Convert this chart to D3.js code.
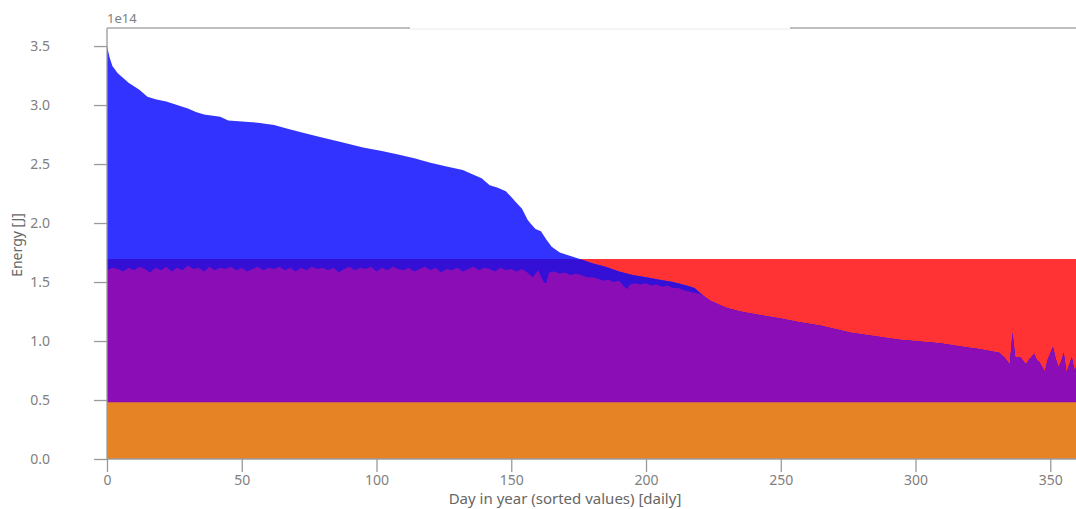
<!doctype html>
<html>
<head>
<meta charset="UTF-8">
<title>Energy duration</title>
<script src="https://d3js.org/d3.v7.min.js"></script>
<style>
    body { margin: 0; background: #fff; }
    text { font-family: "Noto Sans", "Open Sans", sans-serif; }
</style>
</head>
<body>
<svg id="chart" width="1076" height="509"></svg>
<script>
    // values in units of 1e14 J
    var demandDays = [0, 1, 2, 4, 6, 8, 10, 12, 15, 18, 22, 26, 30, 33, 36, 42, 45, 50, 56, 62, 67, 72, 79, 86, 95,
        102, 108, 114, 120, 126, 132, 136, 139, 142, 145, 148, 150, 152, 154, 156, 157, 159, 161, 163, 165, 168,
        172, 176, 180, 185, 190, 195, 200, 205, 210, 215, 218, 220, 222, 224, 227, 230, 235, 242, 250, 257, 265,
        276, 285, 294, 309, 318, 324, 331, 333, 335, 336, 337, 339, 341, 342, 344, 345, 346, 348, 349, 351, 352,
        353, 354, 355, 356, 358, 359, 360, 361, 362, 363, 364];
    var demand = [3.50, 3.40, 3.33, 3.27, 3.23, 3.19, 3.16, 3.13, 3.07, 3.05, 3.03, 3.00, 2.97, 2.94, 2.92, 2.90,
        2.87, 2.86, 2.85, 2.83, 2.80, 2.77, 2.73, 2.69, 2.64, 2.61, 2.58, 2.55, 2.51, 2.48, 2.45, 2.41, 2.38, 2.32,
        2.30, 2.27, 2.22, 2.17, 2.12, 2.03, 2.00, 1.95, 1.93, 1.86, 1.80, 1.75, 1.72, 1.69, 1.66, 1.63, 1.59, 1.56,
        1.54, 1.52, 1.50, 1.47, 1.45, 1.41, 1.37, 1.34, 1.31, 1.28, 1.25, 1.22, 1.19, 1.16, 1.13, 1.07, 1.04, 1.01,
        0.98, 0.95, 0.93, 0.90, 0.86, 0.80, 1.07, 0.86, 0.86, 0.80, 0.84, 0.89, 0.84, 0.82, 0.74, 0.84, 0.95, 0.85,
        0.78, 0.82, 0.90, 0.73, 0.86, 0.75, 0.80, 0.74, 0.84, 0.77, 0.75];

    var suppliedDays = [0, 2, 4, 6, 8, 10, 12, 14, 16, 18, 20, 22, 24, 26, 28, 30, 32, 34, 36, 38, 40, 42, 44, 46,
        48, 50, 52, 54, 56, 58, 60, 62, 64, 66, 68, 70, 72, 74, 76, 78, 80, 82, 84, 86, 88, 90, 92, 94, 96, 98, 100,
        102, 104, 106, 108, 110, 112, 114, 116, 118, 120, 122, 124, 126, 128, 130, 132, 134, 136, 138, 140, 142,
        144, 146, 148, 150, 152, 154, 156, 158, 160, 162, 163, 164, 166, 168, 170, 172, 174, 176, 178, 180, 182,
        184, 186, 188, 190, 192, 193, 194, 196, 198, 200, 202, 204, 206, 208, 210, 212, 214, 216, 218, 220];
    var supplied = [1.60, 1.62, 1.61, 1.59, 1.62, 1.60, 1.63, 1.61, 1.58, 1.62, 1.60, 1.63, 1.59, 1.62, 1.60,
        1.64, 1.61, 1.62, 1.59, 1.63, 1.60, 1.62, 1.61, 1.63, 1.60, 1.62, 1.59, 1.61, 1.63, 1.60, 1.62, 1.61, 1.63,
        1.60, 1.62, 1.59, 1.62, 1.60, 1.63, 1.61, 1.62, 1.60, 1.62, 1.58, 1.61, 1.63, 1.60, 1.62, 1.61, 1.63, 1.59,
        1.62, 1.60, 1.63, 1.61, 1.60, 1.62, 1.59, 1.61, 1.63, 1.60, 1.62, 1.58, 1.61, 1.60, 1.62, 1.59, 1.61, 1.63,
        1.60, 1.62, 1.61, 1.59, 1.62, 1.60, 1.61, 1.59, 1.61, 1.58, 1.54, 1.60, 1.50, 1.49, 1.58, 1.59, 1.57, 1.58,
        1.56, 1.57, 1.56, 1.54, 1.54, 1.53, 1.51, 1.52, 1.50, 1.51, 1.46, 1.44, 1.48, 1.49, 1.48, 1.49, 1.47, 1.48,
        1.46, 1.47, 1.45, 1.45, 1.43, 1.42, 1.41, 1.40];

    var capacityDays = [0, 364];
    var capacity = [1.695, 1.695];
    var baseDays = [0, 364];
    var base = [0.48, 0.48];

    var xTicks = [0, 50, 100, 150, 200, 250, 300, 350];
    var yTicks = [0, 0.5, 1.0, 1.5, 2.0, 2.5, 3.0, 3.5];

    var pLeft = 107, pTop = 28, pBottom = 459, pRight = 1088;

    var x = d3.scaleLinear().domain([0, 364]).range([pLeft, pRight]);
    var y = d3.scaleLinear().domain([0, 3.653]).range([pBottom, pTop]);

    var svg = d3.select("#chart");

    svg.append("clipPath").attr("id", "plotclip")
        .append("rect")
        .attr("x", pLeft).attr("y", pTop)
        .attr("width", pRight - pLeft).attr("height", pBottom - pTop);

    function pts(days, vals) {
        return days.map(function (d, i) { return [d, vals[i]]; });
    }

    var area = d3.area()
        .x(function (d) { return x(d[0]); })
        .y0(y(0))
        .y1(function (d) { return y(d[1]); });

    var demandPts = pts(demandDays, demand);
    // delivered energy equals demand once demand is below the supply level
    var purplePts = pts(suppliedDays, supplied).concat(demandPts.filter(function (d) { return d[0] > 220; }));
    var overlapPts = demandPts.map(function (d) { return [d[0], Math.min(d[1], capacity[0])]; });

    var g = svg.append("g").attr("clip-path", "url(#plotclip)");

    g.append("path").datum(pts(capacityDays, capacity)).attr("d", area).attr("fill", "#ff3333");
    g.append("path").datum(demandPts).attr("d", area).attr("fill", "#3333ff");
    g.append("path").datum(overlapPts).attr("d", area).attr("fill", "#3410d6");
    g.append("path").datum(purplePts).attr("d", area).attr("fill", "#8b0db6");
    g.append("path").datum(pts(baseDays, base)).attr("d", area).attr("fill", "#e68425");

    // axes
    var xAxis = d3.axisBottom(x).tickValues(xTicks).tickSize(13).tickPadding(3).tickFormat(d3.format("d"));
    var yAxis = d3.axisLeft(y).tickValues(yTicks).tickSize(13).tickPadding(44).tickFormat(d3.format(".1f"));

    var gx = svg.append("g").attr("transform", "translate(0," + pBottom + ")").call(xAxis);
    var gy = svg.append("g").attr("transform", "translate(" + pLeft + ",0)").call(yAxis);

    [gx, gy].forEach(function (ax) {
        ax.select(".domain").remove();
        ax.selectAll(".tick line").attr("stroke", "#9a9a9a").attr("stroke-width", 1.3);
        ax.selectAll(".tick text").attr("fill", "#808080").style("font-size", "14px");
    });

    // spines
    svg.append("line").attr("x1", pLeft).attr("x2", pLeft).attr("y1", pTop).attr("y2", pBottom)
        .attr("stroke", "#9a9a9a").attr("stroke-width", 1.3);
    svg.append("line").attr("x1", pLeft).attr("x2", 1076).attr("y1", pBottom).attr("y2", pBottom)
        .attr("stroke", "#9a9a9a").attr("stroke-width", 1.3);
    svg.append("line").attr("x1", pLeft).attr("x2", 410).attr("y1", pTop).attr("y2", pTop)
        .attr("stroke", "#a8a8a8").attr("stroke-width", 1.3);
    svg.append("line").attr("x1", 410).attr("x2", 790).attr("y1", pTop + 1).attr("y2", pTop + 1)
        .attr("stroke", "#ececec").attr("stroke-width", 1);
    svg.append("line").attr("x1", 790).attr("x2", 1076).attr("y1", pTop).attr("y2", pTop)
        .attr("stroke", "#a8a8a8").attr("stroke-width", 1.3);

    // labels
    svg.append("text").attr("x", pLeft).attr("y", 23).text("1e14")
        .attr("fill", "#808080").style("font-size", "13px");
    svg.append("text").attr("x", 565).attr("y", 504).attr("text-anchor", "middle")
        .text("Day in year (sorted values) [daily]")
        .attr("fill", "#666").style("font-size", "15px");
    svg.append("text").attr("transform", "translate(22,245) rotate(-90)").attr("text-anchor", "middle")
        .text("Energy [J]")
        .attr("fill", "#666").style("font-size", "14px");
</script>
</body>
</html>
